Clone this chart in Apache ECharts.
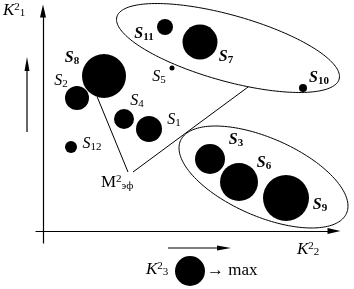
<!DOCTYPE html>
<html>
<head>
<meta charset="utf-8">
<script src="https://cdn.jsdelivr.net/npm/echarts@6/dist/echarts.min.js"></script>
<style>
html,body{margin:0;padding:0;background:#fff;}
#chart{width:354px;height:289px;}
</style>
</head>
<body>
<div id="chart"></div>
<script>
// ---- data ----
const names   = ['1','2','3','4','5','6','7','8','9','10','11','12'];
const bold    = [false,false,true,false,false,true,true,true,true,true,true,false];
const k2x     = [106, 34, 167, 81, 129, 196, 157, 61, 243, 260, 122, 28];   // K2_2
const k2y     = [102, 133, 72, 112, 163, 49, 189, 155, 33, 143, 204, 84];   // K2_1
const k3      = [26, 24, 30, 20, 5, 38, 35, 44, 46, 8, 16, 12];            // K2_3

// cluster outlines (centre, semi-axes, rotation in degrees), data units
const clusterCx    = [185, 220.5];
const clusterCy    = [183, 54];
const clusterA     = [115.4, 90.6];
const clusterB     = [33, 39.1];
const clusterAngle = [-15.65, -23.6];

// ---- label placement (style) ----
const labelOffset = {
  '1':[25,-9],'2':[-16,-17],'3':[26,-19],'4':[13,-18],'5':[-13,9],'6':[25,-19],
  '7':[26,15],'8':[-32,-18],'9':[34,7],'10':[16,-10],'11':[-21,7],'12':[21,-3]
};
const FONT = '"Liberation Serif","Times New Roman",serif';

const chart = echarts.init(document.getElementById('chart'), null, {renderer:'canvas'});

const scatterData = names.map((n,i)=>({
  name: n,
  value: [k2x[i], k2y[i], k3[i]],
  label: {
    show: true,
    position: 'inside',
    offset: labelOffset[n],
    formatter: bold[i] ? '{sb|S}{nb|' + n + '}' : '{s|S}{n|' + n + '}'
  }
}));

function ellipsePoint(i, t, api){
  const th = clusterAngle[i]*Math.PI/180;
  const a = clusterA[i], b = clusterB[i];
  const x = clusterCx[i] + a*Math.cos(t)*Math.cos(th) - b*Math.sin(t)*Math.sin(th);
  const y = clusterCy[i] + a*Math.cos(t)*Math.sin(th) + b*Math.sin(t)*Math.cos(th);
  return api.coord([x,y]);
}

// leader lines of M2эф: anchor (data units) -> S8 rim / upper cluster rim
const leaderAnchor1 = [85, 59];
const leaderAnchor2 = [90, 59];

const option = {
  animation: false,
  grid: {left: 36, right: 20, top: 11, bottom: 46},
  xAxis: {
    type: 'value', min: -7, max: 291,
    axisLine: {show: true, onZero: true, symbol: ['none','triangle'], symbolSize: [6, 13],
               lineStyle: {color: '#000', width: 1.2}},
    axisTick: {show: false}, axisLabel: {show: false}, splitLine: {show: false}
  },
  yAxis: {
    type: 'value', min: -12, max: 220,
    axisLine: {show: true, onZero: true, symbol: ['none','triangle'], symbolSize: [6, 13],
               lineStyle: {color: '#000', width: 1.2}},
    axisTick: {show: false}, axisLabel: {show: false}, splitLine: {show: false}
  },
  series: [
    {
      type: 'custom',
      coordinateSystem: 'cartesian2d',
      silent: true,
      clip: false,
      data: clusterCx.map((c,i)=>[clusterCx[i], clusterCy[i]]),
      renderItem: function(params, api){
        const i = params.dataIndex;
        const pts = [];
        for (let k=0;k<=180;k++){ pts.push(ellipsePoint(i, k/180*Math.PI*2, api)); }
        return {type:'polygon', shape:{points:pts}, style:{fill:'none', stroke:'#000', lineWidth:1}};
      }
    },
    {
      type: 'custom',
      coordinateSystem: 'cartesian2d',
      silent: true,
      clip: false,
      data: [[leaderAnchor1[0], leaderAnchor1[1]]],
      renderItem: function(params, api){
        const s8 = names.indexOf('8');
        const ang = -108*Math.PI/180;
        const r8 = k3[s8]/2;
        const p1a = api.coord(leaderAnchor1);
        const p1b = api.coord([k2x[s8] + r8*Math.cos(ang), k2y[s8] + r8*Math.sin(ang)]);
        const p2a = api.coord(leaderAnchor2);
        const p2b = ellipsePoint(0, -74.9*Math.PI/180, api);
        return {type:'group', children:[
          {type:'line', shape:{x1:p1a[0],y1:p1a[1],x2:p1b[0],y2:p1b[1]}, style:{stroke:'#000', lineWidth:1}},
          {type:'line', shape:{x1:p2a[0],y1:p2a[1],x2:p2b[0],y2:p2b[1]}, style:{stroke:'#000', lineWidth:1}}
        ]};
      }
    },
    {
      type: 'scatter',
      symbol: 'circle',
      symbolSize: function(v){ return v[2]; },
      itemStyle: {color: '#000', opacity: 1},
      emphasis: {disabled: true},
      data: scatterData,
      label: {
        color: '#000',
        rich: {
          s:  {fontFamily: FONT, fontStyle: 'italic', fontSize: 16, color:'#000'},
          sb: {fontFamily: FONT, fontStyle: 'italic', fontWeight: 'bold', fontSize: 16, color:'#000'},
          n:  {fontFamily: FONT, fontSize: 11, color:'#000', padding: [7,0,0,0]},
          nb: {fontFamily: FONT, fontSize: 11, fontWeight: 'bold', color:'#000', padding: [7,0,0,0]}
        }
      }
    }
  ],
  graphic: [
    // axis captions
    {type:'text', left: 3, top: 2, style:{
      text: '{k|K}{sup|2}{sub|1}', fill:'#000',
      rich: {k:{fontFamily:FONT, fontStyle:'italic', fontSize:17, fill:'#000'},
             sup:{fontFamily:FONT, fontSize:11, fill:'#000', padding:[0,0,7,0]},
             sub:{fontFamily:FONT, fontSize:11, fill:'#000', padding:[5,0,0,0]}}}},
    {type:'text', left: 297, top: 241, style:{
      text: '{k|K}{sup|2}{sub|2}', fill:'#000',
      rich: {k:{fontFamily:FONT, fontStyle:'italic', fontSize:17, fill:'#000'},
             sup:{fontFamily:FONT, fontSize:11, fill:'#000', padding:[0,0,7,0]},
             sub:{fontFamily:FONT, fontSize:11, fill:'#000', padding:[5,0,0,0]}}}},
    {type:'text', left: 146, top: 261, style:{
      text: '{k|K}{sup|2}{sub|3}', fill:'#000',
      rich: {k:{fontFamily:FONT, fontStyle:'italic', fontSize:17, fill:'#000'},
             sup:{fontFamily:FONT, fontSize:11, fill:'#000', padding:[0,0,7,0]},
             sub:{fontFamily:FONT, fontSize:11, fill:'#000', padding:[5,0,0,0]}}}},
    {type:'text', left: 101, top: 174, style:{
      text: '{m|M}{sup|2}{sub|эф}', fill:'#000',
      rich: {m:{fontFamily:FONT, fontSize:17, fill:'#000'},
             sup:{fontFamily:FONT, fontSize:11, fill:'#000', padding:[0,0,7,0]},
             sub:{fontFamily:FONT, fontSize:11, fill:'#000', padding:[6,0,0,0]}}}},
    // size legend
    {type:'circle', shape:{cx:190, cy:271, r:15}, style:{fill:'#000'}},
    {type:'text', left: 207, top: 262, style:{text:'→ max', font:'17px "Liberation Serif", serif', fill:'#000'}},
    // direction arrows beside the axes
    {type:'line', shape:{x1:27, y1:132, x2:27, y2:70}, style:{stroke:'#000', lineWidth:1.2}},
    {type:'polygon', shape:{points:[[27,57],[24.5,71],[29.5,71]]}, style:{fill:'#000'}},
    {type:'line', shape:{x1:168, y1:248, x2:218, y2:248}, style:{stroke:'#000', lineWidth:1.2}},
    {type:'polygon', shape:{points:[[231,248],[217,245.5],[217,250.5]]}, style:{fill:'#000'}}
  ]
};
chart.setOption(option);
</script>
</body>
</html>
